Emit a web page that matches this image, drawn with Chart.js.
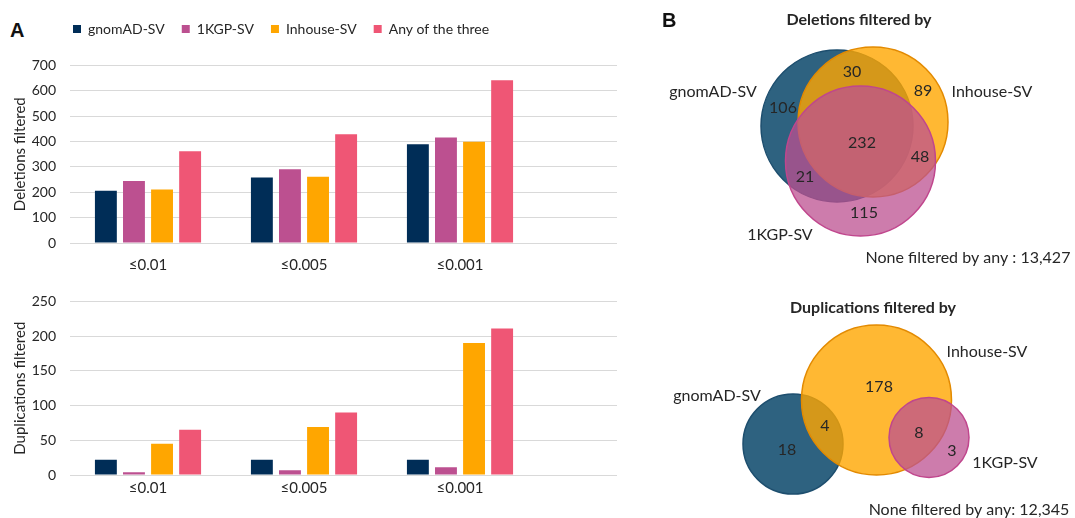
<!DOCTYPE html>
<html>
<head>
<meta charset="utf-8">
<script src="https://cdn.jsdelivr.net/npm/chart.js@4.4.1/dist/chart.umd.min.js"></script>
<style>
  html, body { margin: 0; padding: 0; background: #ffffff; }
  body { width: 1075px; height: 518px; position: relative; overflow: hidden; font-family: Lato, sans-serif; }
  canvas { position: absolute; display: block; }
  .panel { position: absolute; font-family: "Liberation Sans", Arial, sans-serif; font-weight: bold; font-size: 20px; color: #111; line-height: 20px; z-index: 5; }
</style>
</head>
<body>
<div class="panel" style="left:10px; top:20px;">A</div>
<div class="panel" style="left:662px; top:10px;">B</div>
<canvas id="legend" width="480" height="100" style="left:56px; top:5px;"></canvas>
<canvas id="delChart" width="694" height="230" style="left:0px; top:43px;"></canvas>
<canvas id="dupChart" width="694" height="226" style="left:0px; top:279px;"></canvas>
<canvas id="venn" width="458" height="518" style="left:617px; top:0px; z-index:3;"></canvas>
<script>
// ---------- data ----------
const categories = ['≤0.01', '≤0.005', '≤0.001'];
const seriesNames = ['gnomAD-SV', '1KGP-SV', 'Inhouse-SV', 'Any of the three'];
const seriesColors = ['#002D57', '#BC5090', '#FFA600', '#EF5675'];

const delGnomad  = [206, 258, 389];
const del1kgp    = [244, 291, 416];
const delInhouse = [211, 261, 399];
const delAny     = [362, 429, 641];

const dupGnomad  = [22, 22, 22];
const dup1kgp    = [4, 7, 11];
const dupInhouse = [45, 69, 190];
const dupAny     = [65, 90, 211];

// Venn diagrams (≤0.001)
const vennSetNames = ['gnomAD-SV', 'Inhouse-SV', '1KGP-SV'];
const delRegionCounts = [106, 30, 89, 232, 21, 48, 115];
const dupRegionCounts = [18, 4, 178, 8, 3];
const delTitle = 'Deletions filtered by';
const dupTitle = 'Duplications filtered by';
const delNone = 'None filtered by any : 13,427';
const dupNone = 'None filtered by any: 12,345';

// ---------- layout (Venn, in Venn-canvas units) ----------
const vennFill   = ['rgba(0,63,100,0.82)', 'rgba(255,166,0,0.8)', 'rgba(188,80,144,0.75)'];
const vennStroke = ['#1d4e6e', '#e38a00', '#c0468d'];
const vennOrder  = [3, 2, 1];
const delCircleX = [220, 256, 243.5], delCircleY = [126, 122, 161], delCircleR = [76, 75, 75];
const dupCircleX = [176, 259.5, 312], dupCircleY = [444, 400, 437.5], dupCircleR = [50, 75, 40];
const delCountPos = [[166,108],[235,72],[306,91],[245,143],[188,177],[303,157],[247,213]];
const dupCountPos = [[170,450],[208,426],[262,387],[302,433],[335,451]];
const delNamePos = [[96,92],[375,92],[163,235]];
const dupNamePos = [[100,396],[370,352],[388,463]];

const FONT = 'Lato, "Open Sans", sans-serif';
const TEXT = '#262626';

// ---------- legend ----------
new Chart(document.getElementById('legend'), {
  type: 'bar',
  data: { labels: [], datasets: seriesNames.map((n, i) => ({ label: n, data: [], backgroundColor: seriesColors[i] })) },
  options: {
    responsive: false, animation: false, events: [],
    layout: { padding: 0 },
    scales: { x: { display: false }, y: { display: false } },
    plugins: {
      tooltip: { enabled: false },
      legend: {
        display: true, align: 'start',
        labels: { boxWidth: 8, boxHeight: 8, padding: 17, color: TEXT, font: { family: FONT, size: 14 } }
      }
    }
  }
});

// ---------- bar charts ----------
function barChart(id, vals, max, step, title, labelPad) {
  const labels = categories.concat(['']);
  return new Chart(document.getElementById(id), {
    type: 'bar',
    data: {
      labels: labels,
      datasets: vals.map((v, i) => ({
        label: seriesNames[i],
        data: v.concat([null]),
        backgroundColor: seriesColors[i],
        borderWidth: 0,
        categoryPercentage: 0.72,
        barPercentage: 0.78
      }))
    },
    options: {
      responsive: false, animation: false, events: [],
      layout: { padding: { top: 2, right: 0, bottom: 0, left: 0 } },
      plugins: { legend: { display: false }, tooltip: { enabled: false } },
      scales: {
        x: {
          grid: { display: false, drawTicks: false },
          border: { display: false },
          ticks: { color: TEXT, font: { family: FONT, size: 15 }, padding: labelPad, maxRotation: 0, autoSkip: false },
          afterFit: s => { s.height = 30; }
        },
        y: {
          min: 0, max: max,
          grid: { color: '#d9d9d9', lineWidth: 1, drawTicks: false },
          border: { display: false },
          ticks: { stepSize: step, color: TEXT, font: { family: FONT, size: 14 }, padding: 14 },
          title: { display: true, text: title, color: TEXT, font: { family: FONT, size: 15 }, padding: { top: 11, bottom: 0 } },
          afterFit: s => { s.width = 70; }
        }
      }
    }
  });
}
barChart('delChart', [delGnomad, del1kgp, delInhouse, delAny], 700, 100, 'Deletions filtered', 13);
barChart('dupChart', [dupGnomad, dup1kgp, dupInhouse, dupAny], 250, 50, 'Duplications filtered', 4);

// ---------- Venn diagrams ----------
const whiteBg = {
  id: 'whiteBg',
  beforeDraw(chart) {
    const c = chart.ctx;
    c.save(); c.fillStyle = '#ffffff'; c.fillRect(0, 0, chart.width, chart.height); c.restore();
  }
};
const vennText = {
  id: 'vennText',
  afterDatasetsDraw(chart) {
    const c = chart.ctx, sx = chart.scales.x, sy = chart.scales.y;
    const put = (txt, p, font) => {
      c.font = font; c.fillStyle = TEXT; c.textAlign = 'center'; c.textBaseline = 'middle';
      c.fillText(txt, sx.getPixelForValue(p[0]), sy.getPixelForValue(p[1]));
    };
    c.save();
    const numFont = '16px ' + FONT, nameFont = '16px ' + FONT, titleFont = 'bold 16px ' + FONT;
    delRegionCounts.forEach((v, i) => put(String(v), delCountPos[i], numFont));
    dupRegionCounts.forEach((v, i) => put(String(v), dupCountPos[i], numFont));
    vennSetNames.forEach((n, i) => { put(n, delNamePos[i], nameFont); put(n, dupNamePos[i], nameFont); });
    put(delTitle, [242, 20], titleFont);
    put(dupTitle, [256, 308], titleFont);
    put(delNone, [351, 258], nameFont);
    put(dupNone, [352, 510], nameFont);
    c.restore();
  }
};
new Chart(document.getElementById('venn'), {
  type: 'bubble',
  data: {
    datasets: vennSetNames.map((n, i) => ({
      label: n,
      order: vennOrder[i],
      data: [
        { x: delCircleX[i], y: delCircleY[i], r: delCircleR[i] },
        { x: dupCircleX[i], y: dupCircleY[i], r: dupCircleR[i] }
      ],
      backgroundColor: vennFill[i],
      borderColor: vennStroke[i],
      borderWidth: 1.5,
      clip: false
    }))
  },
  options: {
    responsive: false, animation: false, events: [],
    layout: { padding: 0, autoPadding: false },
    scales: {
      x: { type: 'linear', min: 0, max: 458, display: false },
      y: { type: 'linear', min: 0, max: 518, reverse: true, display: false }
    },
    plugins: { legend: { display: false }, tooltip: { enabled: false } }
  },
  plugins: [whiteBg, vennText]
});
</script>
</body>
</html>
